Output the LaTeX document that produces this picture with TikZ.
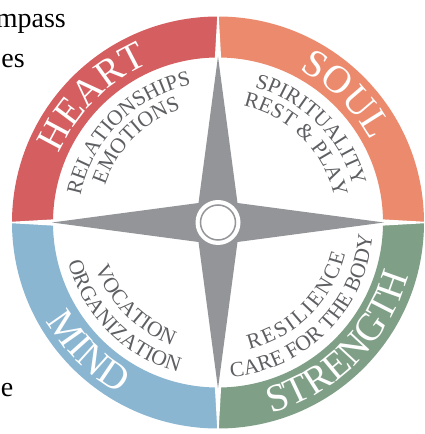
\documentclass[tikz,border=0pt]{standalone}
\usepackage{fontspec}
\setmainfont{Liberation Serif}
\usetikzlibrary{decorations.text,calc}
\definecolor{heartc}{HTML}{D45E60}
\definecolor{soulc}{HTML}{EB8A6C}
\definecolor{mindc}{HTML}{8AB6D2}
\definecolor{strengthc}{HTML}{7F9F86}
\definecolor{stargray}{HTML}{939598}
\definecolor{labelgray}{HTML}{5E5F62}
\newcommand{\ringfont}{\fontsize{39}{39}\selectfont}
\newcommand{\labfont}{\fontsize{21.5}{21.5}\selectfont}
\newcommand{\lsp}{{\kern2.2pt}}
\begin{document}
\begin{tikzpicture}[x=1pt,y=1pt,
  ringtext/.style={decorate,decoration={text along path,text align=center,text color=white,text={|\ringfont|#1}}},
  labtext/.style={decorate,decoration={text along path,text align=center,text color=labelgray,text={|\labfont|#1}}},
  stray/.style={font=\fontsize{28}{28}\selectfont,text=black,inner sep=0pt}]
\useasboundingbox (0,0) rectangle (425,434);
\clip (0,0) rectangle (425,434);
\coordinate (C) at (218,211.5);
% stray text fragments
\node[stray,anchor=base east] (t1) at (66,406) {mpass};
\node[stray,anchor=base east] (t2) at (25,366) {es};
\node[stray,anchor=base east] (t3) at (13.5,37) {e};
% ring sectors
\foreach \s/\col in {90/heartc,0/soulc,180/mindc,270/strengthc}{
  \fill[\col] ($(C)+(\s:206)$) arc[start angle=\s,end angle=\s+90,radius=206]
     -- ($(C)+(\s+90:165)$) arc[start angle=\s+90,end angle=\s,radius=165] -- cycle;
}
% white gaps
\foreach \a in {0,90,180,270}{
  \fill[white] ($(C)+(\a:158)+(\a+90:3.5)$) -- ($(C)+(\a:209)+(\a+90:0.6)$)
     -- ($(C)+(\a:209)+(\a-90:0.6)$) -- ($(C)+(\a:158)+(\a-90:3.5)$) -- cycle;
}
% star
\fill[stargray] ($(C)+(90:166)$) -- ($(C)+(19.5,19.5)$) -- ($(C)+(0:166)$) -- ($(C)+(19.5,-19.5)$)
  -- ($(C)+(270:166)$) -- ($(C)+(-19.5,-19.5)$) -- ($(C)+(180:166)$) -- ($(C)+(-19.5,19.5)$) -- cycle;
\fill[white] (C) circle[radius=22.5];
\draw[stargray,line width=1.5pt] (C) circle[radius=17.5];
% ring labels
\path[ringtext=HEART] ($(C)+(180:173)$) arc[start angle=180,end angle=90,radius=173];
\path[ringtext=SOUL] ($(C)+(90:173)$) arc[start angle=90,end angle=0,radius=173];
\path[ringtext=MIND] ($(C)+(180:198)$) arc[start angle=180,end angle=270,radius=198];
\path[ringtext=STRENGTH] ($(C)+(270:198)$) arc[start angle=270,end angle=360,radius=198];
% inner labels
\path[labtext=RELATIONSHIPS] ($(C)+(180:140)$) arc[start angle=180,end angle=90,radius=140];
\path[labtext=EMOTIONS] ($(C)+(180:119)$) arc[start angle=180,end angle=90,radius=119];
\path[labtext=SPIRITUALITY] ($(C)+(90:140)$) arc[start angle=90,end angle=0,radius=140];
\path[labtext={REST {\&} PLAY}] ($(C)+(90:119)$) arc[start angle=90,end angle=0,radius=119];
\path[labtext=ORGANIZATION] ($(C)+(180:155)$) arc[start angle=180,end angle=270,radius=155];
\path[labtext=VOCATION] ($(C)+(180:131)$) arc[start angle=180,end angle=270,radius=131];
\path[labtext={CARE FOR THE BODY}] ($(C)+(270:155)$) arc[start angle=270,end angle=360,radius=155];
\path[labtext={R\lsp E\lsp S\lsp I\lsp L\lsp I\lsp E\lsp N\lsp C\lsp E}] ($(C)+(270:131)$) arc[start angle=270,end angle=360,radius=131];
\end{tikzpicture}
\end{document}
